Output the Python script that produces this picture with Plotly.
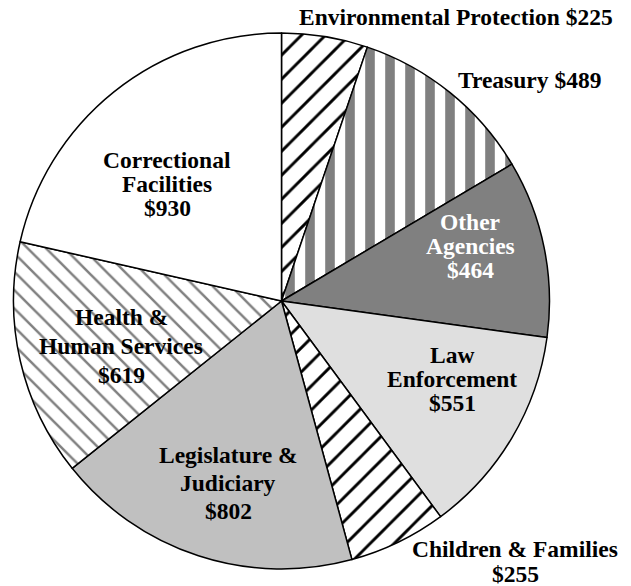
import plotly.graph_objects as go

# ---- data ----
labels = ["Environmental Protection", "Treasury", "Other Agencies", "Law Enforcement",
          "Children & Families", "Legislature & Judiciary", "Health & Human Services",
          "Correctional Facilities"]
values = [225, 489, 464, 551, 255, 802, 619, 930]
label_lines = [["Environmental Protection"], ["Treasury"], ["Other", "Agencies"],
               ["Law", "Enforcement"], ["Children & Families"],
               ["Legislature &", "Judiciary"], ["Health &", "Human Services"],
               ["Correctional", "Facilities"]]
value_inline = [True, True, False, False, False, False, False, False]

# ---- styles ----
bg_colors = ["white", "white", "#808080", "#dfdfdf", "white", "#c0c0c0", "white", "white"]
pat_shapes = ["/", "|", "", "", "/", "", "\\", ""]
pat_fg = ["black", "#808080", "black", "black", "black", "black", "#808080", "black"]
pat_size = [17, 20, 10, 10, 17, 10, 13, 10]
pat_solid = [0.17, 0.48, 0.3, 0.3, 0.17, 0.3, 0.19, 0.3]
text_colors = ["black", "black", "white", "black", "black", "black", "black", "black"]
# label placement in pixels: (center x, first line center y, line spacing)
label_pos = [(456, 17, 25), (529, 80, 25), (470, 222, 24), (452, 355, 24),
             (515, 549, 24.5), (228, 455, 28), (121, 317, 29), (167, 160, 24)]

W, H = 631, 586
cx, cy, R = 281.5, 301, 268

fig = go.Figure(go.Pie(
    labels=labels, values=values, sort=False, direction="clockwise", rotation=0,
    textinfo="none", hoverinfo="label+value", showlegend=False,
    marker=dict(colors=bg_colors, line=dict(color="black", width=1.5),
                pattern=dict(shape=pat_shapes, fgcolor=pat_fg, size=pat_size,
                             solidity=pat_solid, fillmode="overlay", fgopacity=1)),
    domain=dict(x=[(cx - R) / W, (cx + R) / W], y=[1 - (cy + R) / H, 1 - (cy - R) / H]),
))

annotations = []
for lines, val, inline, (px, py, sp), tc in zip(label_lines, values, value_inline,
                                                 label_pos, text_colors):
    if inline:
        rows = [lines[0] + " $" + str(val)]
    else:
        rows = lines + ["$" + str(val)]
    for i, row in enumerate(rows):
        annotations.append(dict(
            x=px / W, y=1 - (py + i * sp) / H, xref="paper", yref="paper",
            text="<b>" + row + "</b>", showarrow=False, xanchor="center", yanchor="middle",
            font=dict(family="Liberation Serif", size=23.5, color=tc)))

fig.update_layout(width=W, height=H, margin=dict(l=0, r=0, t=0, b=0),
                  paper_bgcolor="white", plot_bgcolor="white", annotations=annotations)
fig.write_html("out.html", config={"displayModeBar": False},
               post_script="document.body.style.margin='0';document.body.style.overflow='hidden';")
